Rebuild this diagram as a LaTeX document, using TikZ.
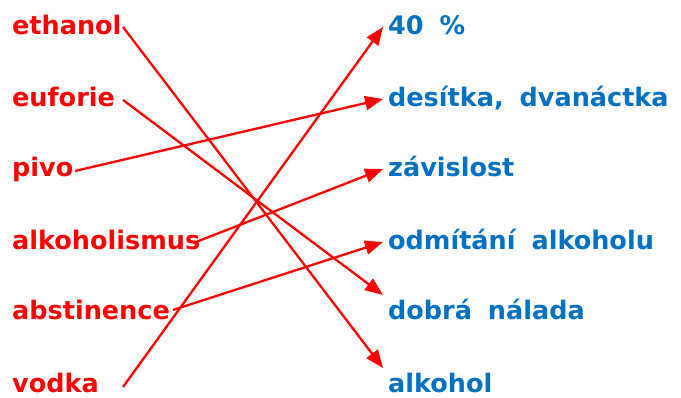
\documentclass[tikz,border=0pt]{standalone}
\usepackage{fontspec}
\setmainfont[WordSpace=1.8]{DejaVu Sans}
\usetikzlibrary{arrows.meta}
\definecolor{lred}{RGB}{255,0,0}
\definecolor{rblue}{RGB}{0,112,192}
\begin{document}
\begin{tikzpicture}[x=1pt,y=-1pt,
  lword/.style={anchor=base west,inner sep=0pt,text=lred,font=\fontsize{25.5}{30}\selectfont\bfseries},
  rword/.style={anchor=base west,inner sep=0pt,text=rblue,font=\fontsize{25.5}{30}\selectfont\bfseries},
  link/.style={draw=lred,line width=2.3pt,-{Triangle[length=18pt,width=14pt]}}]
\useasboundingbox (0,0) rectangle (681,398);
\node[lword] (ethanol) at (12,35) {ethanol};
\node[lword] (euforie) at (12,107) {euforie};
\node[lword] (pivo) at (12,177) {pivo};
\node[lword] (alkoholismus) at (12,250) {alkoholismus};
\node[lword] (abstinence) at (12,320) {abstinence};
\node[lword] (vodka) at (12,392) {vodka};
\node[rword] (procenta) at (388,35) {40 \%};
\node[rword] (desitka) at (388,107) {desítka, dvanáctka};
\node[rword] (zavislost) at (388,177) {závislost};
\node[rword] (odmitani) at (388,250) {odmítání alkoholu};
\node[rword] (dobra) at (388,320) {dobrá nálada};
\node[rword] (alkohol) at (388,392) {alkohol};
% connector end points
\coordinate (s1) at (123,27);
\coordinate (s2) at (123,100);
\coordinate (s3) at (75,171);
\coordinate (s4) at (196,242);
\coordinate (s5) at (173,310);
\coordinate (s6) at (123,387);
\coordinate (e1) at (383,368);
\coordinate (e2) at (383,295);
\coordinate (e3) at (383,99);
\coordinate (e4) at (383,169);
\coordinate (e5) at (383,242);
\coordinate (e6) at (383,27);
\draw[link] (s1) -- (e1);
\draw[link] (s2) -- (e2);
\draw[link] (s3) -- (e3);
\draw[link] (s4) -- (e4);
\draw[link] (s5) -- (e5);
\draw[link] (s6) -- (e6);
\end{tikzpicture}
\end{document}
